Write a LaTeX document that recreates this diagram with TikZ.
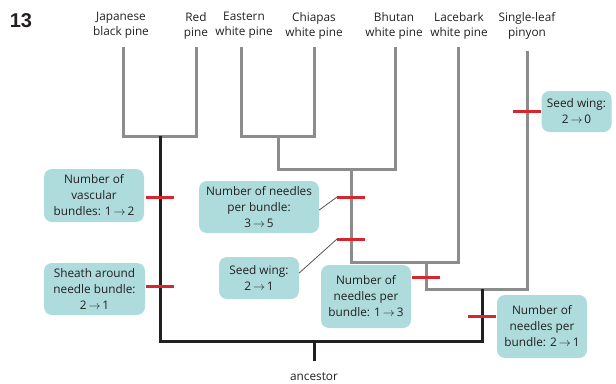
\documentclass[tikz,border=0pt]{standalone}
\usepackage{fontspec}
\setmainfont{Open Sans}
\newfontfamily\numfont{Liberation Sans}
\definecolor{boxfill}{HTML}{AEDBDC}
\definecolor{treegray}{HTML}{8C8C8C}
\definecolor{treeblack}{HTML}{231F20}
\definecolor{markred}{HTML}{D8262E}
\definecolor{leadgray}{HTML}{555555}
\definecolor{txt}{HTML}{231F20}
\begin{document}
\begin{tikzpicture}[x=1pt,y=-1pt,
  every node/.style={font=\fontsize{11.8}{15}\selectfont, text=txt},
  taxon/.style={align=center, inner sep=0pt},
  charbox/.style={fill=boxfill, rounded corners=8pt, align=center, inner sep=0pt,
     font=\fontsize{11.8}{16}\selectfont},
  graybranch/.style={draw=treegray, line width=3pt, line join=miter},
  blackbranch/.style={draw=treeblack, line width=3pt, line join=miter},
  redmark/.style={draw=markred, line width=3pt},
  leader/.style={draw=leadgray, line width=0.8pt}]
\useasboundingbox (0,0) rectangle (616,383);

% figure number
\node[inner sep=0pt, font=\numfont\bfseries\fontsize{20}{20}\selectfont] (num) at (21,20.5) {13};

% taxa labels
\node[taxon] (tjbp) at (121,25.5) {Japanese\\black pine};
\node[taxon] (trp)  at (196,25.5) {Red\\pine};
\node[taxon] (tewp) at (244,25.5) {Eastern\\white pine};
\node[taxon] (tcwp) at (314,25.5) {Chiapas\\white pine};
\node[taxon] (tbwp) at (394,25.5) {Bhutan\\white pine};
\node[taxon] (tlwp) at (459,25.5) {Lacebark\\white pine};
\node[taxon] (tslp) at (527,25.5) {Single-leaf\\pinyon};
\node[taxon] (tanc) at (314,377) {ancestor};

% tree coordinates
\coordinate (jbp) at (123,47);
\coordinate (rp)  at (196,47);
\coordinate (ewp) at (241,47);
\coordinate (cwp) at (314,47);
\coordinate (bwp) at (395,47);
\coordinate (lwp) at (458,47);
\coordinate (slp) at (527,51);
\coordinate (n1) at (160,136);
\coordinate (n2) at (278,136);
\coordinate (n3) at (351,169);
\coordinate (n4) at (426,262);
\coordinate (n5) at (482,289);
\coordinate (root) at (314,341);
\coordinate (anc) at (314,361);

% gray branches
\path[graybranch] (jbp) |- (n1) -| (rp);
\path[graybranch] (ewp) |- (n2) -| (cwp);
\path[graybranch] (n2) |- (n3) -| (bwp);
\path[graybranch] (n3) |- (n4) -| (lwp);
\path[graybranch] (n4) |- (n5) -| (slp);
% black branches
\path[blackbranch] (n1) |- (root) -| (n5);
\path[blackbranch] (root) -- (anc);

% character boxes
\node[charbox, minimum width=100pt, minimum height=53pt] (bvasc) at (94,195.5)
  {Number of\\vascular\\bundles: 1\,$\rightarrow$\,2};
\node[charbox, minimum width=101pt, minimum height=52pt] (bsheath) at (94.5,289)
  {Sheath around\\needle bundle:\\2\,$\rightarrow$\,1};
\node[charbox, minimum width=120pt, minimum height=52pt] (bn35) at (259,207)
  {Number of needles\\per bundle:\\3\,$\rightarrow$\,5};
\node[charbox, minimum width=80pt, minimum height=42pt] (bsw21) at (259,278)
  {Seed wing:\\2\,$\rightarrow$\,1};
\node[charbox, minimum width=90pt, minimum height=63pt] (bn13) at (366,296.5)
  {Number of\\needles per\\bundle: 1\,$\rightarrow$\,3};
\node[charbox, minimum width=90pt, minimum height=63pt] (bn21) at (542,326.5)
  {Number of\\needles per\\bundle: 2\,$\rightarrow$\,1};
\node[charbox, minimum width=70pt, minimum height=41pt] (bsw20) at (576.5,111.5)
  {Seed wing:\\2\,$\rightarrow$\,0};

% red marks
\coordinate (mvasc) at (160,197);
\coordinate (msheath) at (160,286);
\coordinate (mn35) at (351,197);
\coordinate (msw21) at (351,239);
\coordinate (mn13) at (426,277);
\coordinate (mn21) at (482,316);
\coordinate (msw20) at (527,111);
\foreach \m in {mvasc,msheath,mn35,msw21,mn13,mn21,msw20}
  \path[redmark] ([xshift=-14pt]\m) -- ([xshift=14pt]\m);

% leaders
\path[leader] ([yshift=-3pt]bn35.east) -- ([xshift=-14pt]mn35);
\path[leader] ([yshift=5pt]bsw21.east) -- ([xshift=-14pt]msw21);
\end{tikzpicture}
\end{document}
